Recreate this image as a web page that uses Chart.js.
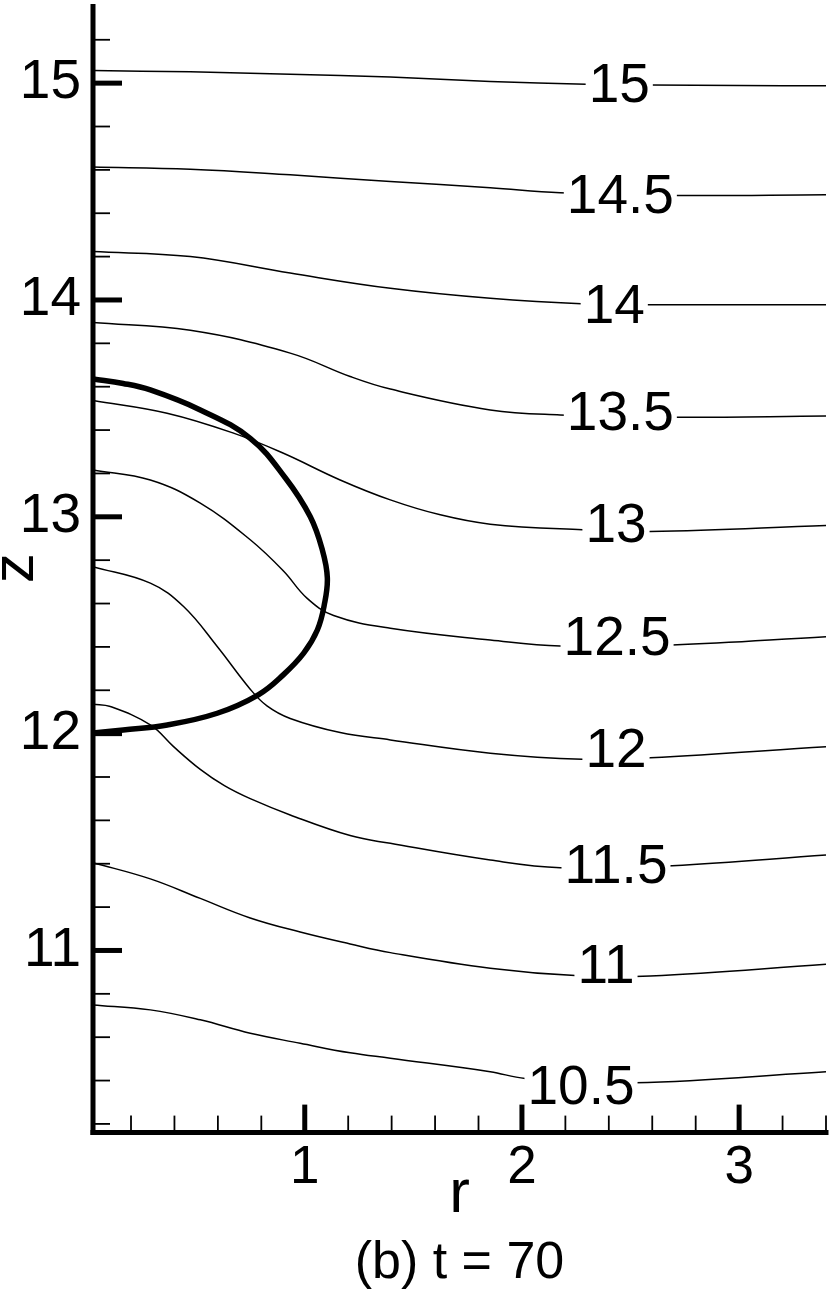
<!DOCTYPE html>
<html>
<head>
<meta charset="utf-8">
<script src="https://cdn.jsdelivr.net/npm/chart.js@4.4.1/dist/chart.umd.min.js"></script>
<style>
html,body{margin:0;padding:0;background:#fff;}
#wrap{width:830px;height:1295px;position:relative;}
canvas{display:block;}
</style>
</head>
<body>
<div id="wrap"><canvas id="c" width="830" height="1295"></canvas></div>
<script>
// ---------- DATA ----------
const xTicks = [1, 2, 3];
const yTicks = [11, 12, 13, 14, 15];
const xMinor = [0.2, 0.4, 0.6, 0.8, 1.2, 1.4, 1.6, 1.8, 2.2, 2.4, 2.6, 2.8, 3.2, 3.4];
const yMinor = [10.2, 10.4, 10.6, 10.8, 11.2, 11.4, 11.6, 11.8, 12.2, 12.4, 12.6, 12.8,
                13.2, 13.4, 13.6, 13.8, 14.2, 14.4, 14.6, 14.8, 15.2];

const levels = ['15', '14.5', '14', '13.5', '13', '12.5', '12', '11.5', '11', '10.5'];
const labelR = [2.448, 2.453, 2.425, 2.453, 2.433, 2.438, 2.433, 2.433, 2.387, 2.272];
const labelZ = [14.982, 14.470, 13.964, 13.470, 12.955, 12.432, 11.917, 11.381, 10.919, 10.364];

const c15R  = [0.025, 0.473, 0.933, 1.394, 1.854, 2.296, 2.591, 3.0, 3.4];
const c15Z  = [15.058, 15.052, 15.041, 15.028, 15.008, 14.995, 14.992, 14.989, 14.988];
const c145R = [0.025, 0.473, 0.933, 1.394, 1.854, 2.176, 2.692, 3.4];
const c145Z = [14.613, 14.603, 14.577, 14.546, 14.518, 14.495, 14.482, 14.485];
const c14R  = [0.025, 0.473, 0.933, 1.394, 1.854, 2.296, 2.591, 3.4];
const c14Z  = [14.223, 14.200, 14.124, 14.054, 14.008, 13.982, 13.978, 13.978];
const c135R = [0.025, 0.473, 0.933, 1.209, 1.394, 1.854, 2.176, 2.692, 3.4];
const c135Z = [13.896, 13.860, 13.755, 13.647, 13.589, 13.493, 13.470, 13.459, 13.465];
const c13R  = [0.025, 0.366, 0.672, 0.902, 1.163, 1.394, 1.624, 1.854, 2.278, 2.591, 3.4];
const c13Z  = [13.537, 13.478, 13.386, 13.293, 13.170, 13.078, 13.009, 12.966, 12.940, 12.932, 12.960];
const c125R = [0.025, 0.289, 0.519, 0.749, 0.902, 1.01, 1.133, 1.394, 1.854, 2.176, 2.692, 3.4];
const c125Z = [13.216, 13.170, 13.063, 12.894, 12.75, 12.625, 12.545, 12.486, 12.432, 12.404, 12.409, 12.447];
const c12R  = [0.025, 0.289, 0.442, 0.596, 0.749, 0.826, 0.933, 1.163, 1.394, 1.854, 2.278, 2.591, 3.4];
const c12Z  = [12.770, 12.694, 12.586, 12.403, 12.205, 12.128, 12.070, 12.005, 11.971, 11.910, 11.882, 11.889, 11.940];
const c115R = [0.025, 0.105, 0.289, 0.396, 0.519, 0.63, 0.749, 0.933, 1.209, 1.394, 1.854, 2.176, 2.692, 3.4];
const c115Z = [12.136, 12.125, 12.040, 11.94, 11.835, 11.76, 11.70, 11.625, 11.53, 11.494, 11.417, 11.382, 11.391, 11.440];
const c11R  = [0.025, 0.289, 0.519, 0.749, 0.979, 1.209, 1.394, 1.854, 2.245, 2.591, 3.4];
const c11Z  = [11.405, 11.33, 11.24, 11.15, 11.085, 11.03, 10.99, 10.918, 10.884, 10.882, 10.936];
const c105R = [0.025, 0.289, 0.519, 0.749, 0.979, 1.209, 1.394, 1.854, 2.015, 2.52, 3.4];
const c105Z = [10.749, 10.726, 10.68, 10.618, 10.572, 10.528, 10.503, 10.441, 10.41, 10.39, 10.441];

const bubbleR = [0.025, 0.164, 0.289, 0.519, 0.749, 0.911, 1.025, 1.081, 1.104, 1.090, 1.058, 0.995, 0.901, 0.786, 0.597, 0.367, 0.164, 0.025];
const bubbleZ = [13.636, 13.615, 13.585, 13.493, 13.362, 13.179, 13.001, 12.847, 12.718, 12.594, 12.478, 12.371, 12.271, 12.179, 12.094, 12.040, 12.017, 12.003];

// ---------- CHART ----------
const FONT = "'Liberation Sans', Arial, Helvetica, sans-serif";
const contourR = [c15R, c145R, c14R, c135R, c13R, c125R, c12R, c115R, c11R, c105R];
const contourZ = [c15Z, c145Z, c14Z, c135Z, c13Z, c125Z, c12Z, c115Z, c11Z, c105Z];
const toPts = (rs, zs) => rs.map((r, i) => ({x: r, y: zs[i]}));

const datasets = contourR.map((rs, i) => ({
  label: levels[i],
  data: toPts(rs, contourZ[i]),
  showLine: true, borderColor: '#000', borderWidth: 1.5,
  pointRadius: 0, tension: 0.4, fill: false
}));
datasets.push({
  label: 'bubble',
  data: toPts(bubbleR, bubbleZ),
  showLine: true, borderColor: '#000', borderWidth: 5.5,
  pointRadius: 0, tension: 0.4, fill: false
});

const decor = {
  id: 'decor',
  afterDatasetsDraw(chart) {
    const {ctx, chartArea: a, scales: {x, y}} = chart;
    ctx.save();
    // contour labels
    ctx.font = '55px ' + FONT;
    ctx.textAlign = 'center';
    ctx.textBaseline = 'middle';
    levels.forEach((t, i) => {
      const px = x.getPixelForValue(labelR[i]);
      const py = y.getPixelForValue(labelZ[i]);
      const w = ctx.measureText(t).width + 6;
      ctx.fillStyle = '#fff';
      ctx.fillRect(px - w / 2, py - 22, w, 44);
      ctx.fillStyle = '#000';
      ctx.fillText(t, px, py);
    });
    // axis lines
    ctx.strokeStyle = '#000';
    ctx.lineCap = 'butt';
    ctx.lineWidth = 5;
    ctx.beginPath(); ctx.moveTo(a.left, a.top); ctx.lineTo(a.left, a.bottom + 2.5); ctx.stroke();
    ctx.beginPath(); ctx.moveTo(a.left - 2.5, a.bottom); ctx.lineTo(a.right + 2.5, a.bottom); ctx.stroke();
    // y ticks
    yTicks.forEach(v => {
      const py = y.getPixelForValue(v);
      ctx.lineWidth = 5;
      ctx.beginPath(); ctx.moveTo(a.left, py); ctx.lineTo(a.left + 29, py); ctx.stroke();
    });
    yMinor.forEach(v => {
      const py = y.getPixelForValue(v);
      ctx.lineWidth = 1.8;
      ctx.beginPath(); ctx.moveTo(a.left, py); ctx.lineTo(a.left + 17, py); ctx.stroke();
    });
    // x ticks
    xTicks.forEach(v => {
      const px = x.getPixelForValue(v);
      ctx.lineWidth = 5;
      ctx.beginPath(); ctx.moveTo(px, a.bottom); ctx.lineTo(px, a.bottom - 28); ctx.stroke();
    });
    xMinor.forEach(v => {
      const px = x.getPixelForValue(v);
      ctx.lineWidth = 1.8;
      ctx.beginPath(); ctx.moveTo(px, a.bottom); ctx.lineTo(px, a.bottom - 17); ctx.stroke();
    });
    ctx.restore();
  }
};

new Chart(document.getElementById('c'), {
  type: 'scatter',
  data: {datasets},
  plugins: [decor],
  options: {
    responsive: false,
    animation: false,
    events: [],
    devicePixelRatio: 1,
    layout: {padding: {top: 4, right: 4, bottom: 0, left: 0}},
    plugins: {
      legend: {display: false},
      tooltip: {enabled: false},
      title: {
        display: true, position: 'bottom', fullSize: false,
        text: '(b) t = 70', color: '#000',
        font: {family: FONT, size: 52, weight: 'normal', lineHeight: 1.2},
        padding: {top: 0, bottom: 0}
      }
    },
    scales: {
      x: {
        type: 'linear', min: 0.025, max: 3.4,
        grid: {display: false, drawTicks: false},
        border: {display: false},
        ticks: {color: '#000', font: {family: FONT, size: 53}, padding: 4,
                autoSkip: false, maxRotation: 0, minRotation: 0},
        afterBuildTicks: s => { s.ticks = xTicks.map(v => ({value: v})); },
        afterFit: s => { s.height = 100; s.paddingLeft = 0; s.paddingRight = 0; s.paddingTop = 0; s.paddingBottom = 0; },
        title: {display: true, text: 'r', color: '#000',
                font: {family: FONT, size: 62, lineHeight: 1.2},
                padding: {top: 0, bottom: 0}}
      },
      y: {
        type: 'linear', min: 10.16, max: 15.365,
        grid: {display: false, drawTicks: false},
        border: {display: false},
        ticks: {color: '#000', font: {family: FONT, size: 55}, padding: 12, autoSkip: false},
        afterBuildTicks: s => { s.ticks = yTicks.map(v => ({value: v})); },
        afterFit: s => { s.width = 93; s.paddingLeft = 0; s.paddingRight = 0; s.paddingTop = 0; s.paddingBottom = 0; },
        title: {display: true, text: 'z', color: '#000',
                font: {family: FONT, size: 60, lineHeight: 0.4},
                padding: {top: 4, bottom: 0}}
      }
    }
  }
});
</script>
</body>
</html>
